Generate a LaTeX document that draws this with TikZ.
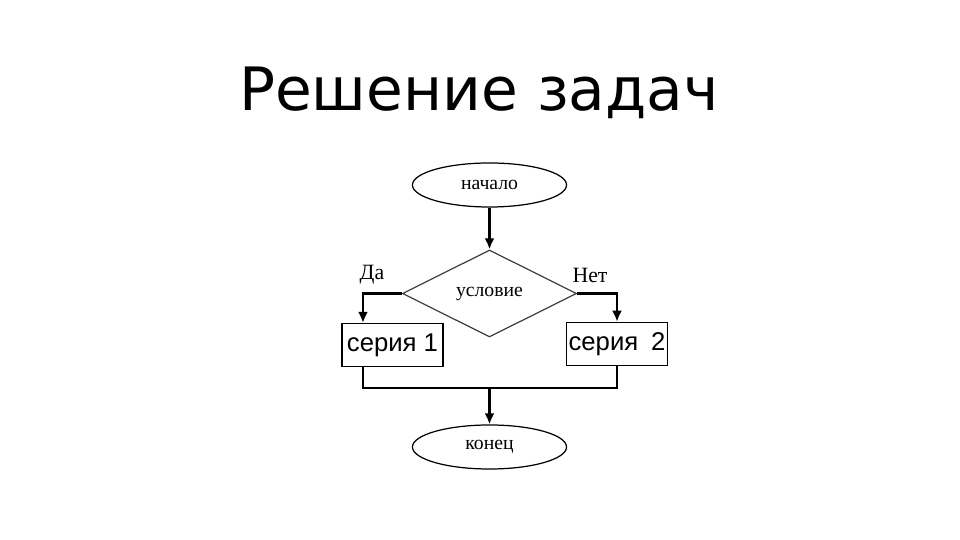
\documentclass[tikz,border=0pt]{standalone}
\usepackage{fontspec}
\setmainfont{DejaVu Sans}
\newfontfamily\ruserif{Liberation Serif}
\newfontfamily\rusans{Liberation Sans}
\usetikzlibrary{arrows.meta,positioning,shapes.geometric}

\tikzset{
  term/.style={ellipse,draw,line width=0.35pt,minimum width=1.54cm,minimum height=0.44cm,inner sep=0pt,font=\ruserif\fontsize{5.6}{6}\selectfont},
  cond/.style={diamond,draw=black!75,line width=0.35pt,aspect=2,minimum width=1.74cm,minimum height=0.87cm,inner sep=0pt,font=\ruserif\fontsize{5.6}{6}\selectfont},
  series/.style={rectangle,draw,line width=0.35pt,minimum width=1.01cm,minimum height=0.43cm,inner sep=0pt,font=\rusans\fontsize{7.3}{8}\selectfont},
  answer/.style={font=\ruserif\fontsize{6.2}{7}\selectfont,inner sep=0pt},
  link/.style={line width=0.65pt},
  arr/.style={link,-{Latex[length=1.1mm,width=1mm]}}
}

\begin{document}
\begin{tikzpicture}[x=0.01cm,y=-0.01cm]
  \useasboundingbox (0,0) rectangle (960,540);
  \node[font=\fontsize{17}{20}\selectfont] (title) at (479,93) {Решение задач};

  % flowchart
  \node[term] (start) at (489.5,185) {начало};
  \node[cond] (check) at (489.5,293.5) {условие};
  \node[series] (s1) at (392.5,345) {серия 1};
  \node[series,line width=0.45pt] (s2) at (617,344) {серия\hspace{0.5em}2};
  \node[term] (stop) at (489.5,447) {конец};
  \node[answer] (yes) at (372,275) {Да};
  \node[answer] (no) at (590,275) {Нет};
  \coordinate (join) at (489.5,388);

  \draw[arr] (start) -- (check);
  \draw[arr] (check.west) -| ([xshift=-0.295cm]s1.north);
  \draw[arr] (check.east) -| (s2.north);
  \draw[link] ([xshift=-0.295cm]s1.south) |- (join) -| (s2.south);
  \draw[arr] (join) -- (stop);
\end{tikzpicture}
\end{document}
